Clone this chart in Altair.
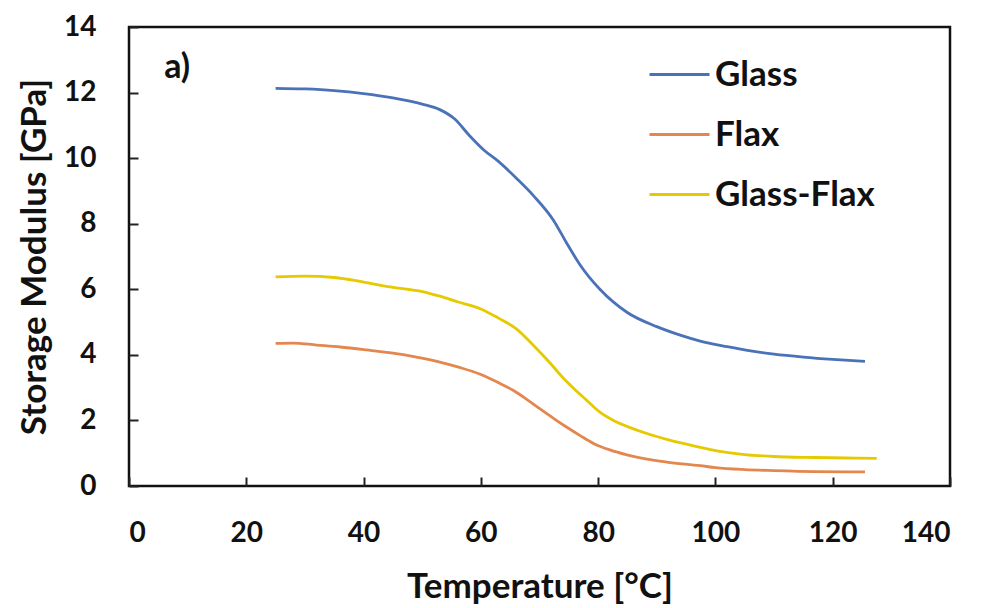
import altair as alt
import pandas as pd

glass_t = [25, 30, 35, 40, 45, 50, 53, 55.5, 58, 60.5, 63, 66.1, 69, 72.4, 74.6, 76.9, 80.3, 84.9, 90, 94, 97.4, 102, 106, 110, 115, 120, 125.5]
glass_v = [12.13, 12.11, 12.06, 11.97, 11.84, 11.65, 11.48, 11.2, 10.7, 10.25, 9.9, 9.38, 8.85, 8.1, 7.42, 6.75, 6.0, 5.3, 4.86, 4.6, 4.42, 4.25, 4.12, 4.02, 3.93, 3.86, 3.8]

flax_t = [25, 28, 32, 36, 40.5, 45, 49, 53, 56.5, 60, 63, 65.5, 68, 70.1, 72.5, 74.6, 77, 79.2, 82, 84.9, 88.3, 91.7, 97.4, 100, 105, 110, 117, 125.5]
flax_v = [4.35, 4.36, 4.30, 4.24, 4.15, 4.05, 3.93, 3.78, 3.61, 3.4, 3.15, 2.92, 2.62, 2.35, 2.05, 1.8, 1.53, 1.3, 1.1, 0.95, 0.82, 0.73, 0.62, 0.56, 0.5, 0.47, 0.44, 0.43]

gf_t = [25, 30, 35, 40, 45, 50, 53, 56, 60, 63, 66, 68.9, 71.8, 74, 75.8, 78, 80.3, 82.6, 84.9, 88.3, 91.7, 97.4, 100, 105, 110, 117, 124, 127.5]
gf_v = [6.38, 6.40, 6.36, 6.22, 6.06, 5.93, 5.79, 5.62, 5.4, 5.12, 4.8, 4.3, 3.75, 3.3, 2.98, 2.62, 2.25, 2.0, 1.82, 1.6, 1.42, 1.18, 1.08, 0.96, 0.9, 0.87, 0.85, 0.84]

series = ["Glass", "Flax", "Glass-Flax"]
colors = ["#4A72B8", "#E3874E", "#E6CA00"]

rows = []
for name, ts, vs in [("Glass", glass_t, glass_v), ("Flax", flax_t, flax_v), ("Glass-Flax", gf_t, gf_v)]:
    for t, v in zip(ts, vs):
        rows.append({"Temperature": t, "Modulus": v, "Series": name})
df = pd.DataFrame(rows)

FONT = "Lato"

lines = alt.Chart(df).mark_line(strokeWidth=2.8, interpolate="monotone").encode(
    x=alt.X("Temperature:Q",
            scale=alt.Scale(domain=[0, 140], nice=False),
            axis=alt.Axis(values=[0, 20, 40, 60, 80, 100, 120, 140], title="Temperature [°C]",
                          grid=False, domain=False, offset=-9, tickSize=9, tickWidth=2,
                          tickColor="#222", labelPadding=33, labelFontSize=28,
                          labelFont=FONT, labelFontWeight="bold", labelColor="#111",
                          titleFont=FONT, titleFontSize=35, titleFontWeight="bold",
                          titleColor="#111", titlePadding=22)),
    y=alt.Y("Modulus:Q",
            scale=alt.Scale(domain=[0, 14], nice=False),
            axis=alt.Axis(values=[0, 2, 4, 6, 8, 10, 12, 14], title="Storage Modulus [GPa]",
                          grid=False, domain=False, offset=-9, tickSize=9, tickWidth=2,
                          tickColor="#222", labelPadding=33, labelFontSize=28,
                          labelFont=FONT, labelFontWeight="bold", labelColor="#111",
                          titleFont=FONT, titleFontSize=35, titleFontWeight="bold",
                          titleColor="#111", titlePadding=11)),
    color=alt.Color("Series:N",
                    scale=alt.Scale(domain=series, range=colors),
                    legend=alt.Legend(title=None, orient="none", legendX=519, legendY=16,
                                      symbolType="stroke", symbolSize=3600, symbolStrokeWidth=3,
                                      labelFont=FONT, labelFontSize=35, labelFontWeight="bold",
                                      labelColor="#111", labelOffset=4, rowPadding=10)),
    order=alt.Order("Temperature:Q"),
)

label_df = pd.DataFrame({"x": [6.0], "y": [12.75], "t": ["a)"]})
label = alt.Chart(label_df).mark_text(align="left", baseline="middle", font=FONT,
                                      fontSize=34, fontWeight="bold", color="#111").encode(
    x="x:Q", y="y:Q", text="t:N")

chart = alt.layer(lines, label).properties(
    width=821, height=459,
    autosize=alt.AutoSizeParams(type="none"),
    padding={"left": 121, "top": 19, "right": 10, "bottom": 118},
    background="white",
).configure_view(stroke="#111", strokeWidth=2.5)

chart.save("out.html", embed_options={"renderer": "svg", "actions": False})
